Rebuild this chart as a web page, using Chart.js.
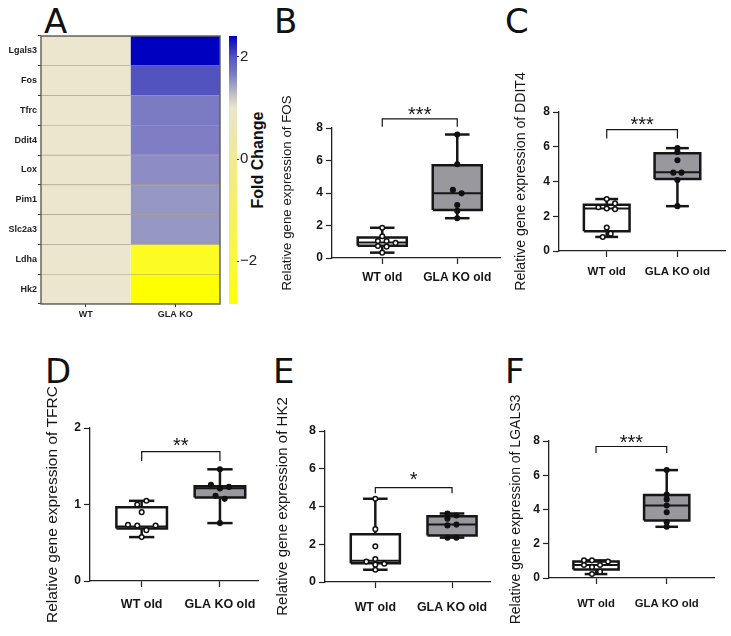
<!DOCTYPE html>
<html>
<head>
<meta charset="utf-8">
<script src="https://cdn.jsdelivr.net/npm/chart.js@4"></script>
<style>
html, body { margin: 0; padding: 0; background: #fff; }
body { position: relative; width: 731px; height: 636px; overflow: hidden; }
canvas { position: absolute; }
.letra { position: absolute; font-family: "DejaVu Sans"; font-size: 34px; line-height: 36px; color: #111; }
.cbtitulo { position: absolute; font-family: "Liberation Sans"; font-weight: bold; font-size: 16px; color: #111;
  transform: translate(-50%, -50%) rotate(-90deg); white-space: nowrap; }
</style>
</head>
<body>
<div class="letra" style="left:44px;top:3px">A</div>
<div class="letra" style="left:274px;top:3px">B</div>
<div class="letra" style="left:505px;top:3px">C</div>
<div class="letra" style="left:45px;top:353px">D</div>
<div class="letra" style="left:273px;top:353px">E</div>
<div class="letra" style="left:505px;top:353px">F</div>
<div class="cbtitulo" style="left:258px;top:160px">Fold Change</div>

<canvas id="heatmap"></canvas>
<canvas id="colorbar"></canvas>
<canvas id="chartB"></canvas>
<canvas id="chartC"></canvas>
<canvas id="chartD"></canvas>
<canvas id="chartE"></canvas>
<canvas id="chartF"></canvas>

<script>
// Heatmap
var genes = ['Lgals3', 'Fos', 'Tfrc', 'Ddit4', 'Lox', 'Pim1', 'Slc2a3', 'Ldha', 'Hk2'];
var heatGroups = ['WT', 'GLA KO'];
var foldWT = [1, 1, 1, 1, 1, 1, 1, 1, 1];
var foldKO = [2.41, 2.0, 1.66, 1.64, 1.56, 1.5, 1.5, -2.35, -2.84];
var colorTicks = [-2, 0, 2];
var colorStops = [
    [-2.84, '#ffff00'], [-2, '#f9f83a'], [0, '#efeb8e'], [0.75, '#ebe6c0'], [1, '#ebe6cd'],
    [1.25, '#c4c2c4'], [1.66, '#7b7bc4'], [2.0, '#5353c0'], [2.41, '#0000c0']
];

var groups = ['WT old', 'GLA KO old'];

// FOS
var fosWT = [0.33, 0.76, 0.95, 1.26, 1.86];
var fosKO = [2.45, 2.95, 3.98, 5.71, 7.6];
var fosWTy = [1.86, 1.34, 1.05, 1.05, 0.93, 0.74, 0.70, 0.33];
var fosWTx = [0, 0, -0.058, 0.058, 0.178, -0.058, 0.058, 0];
var fosKOy = [7.6, 5.77, 4.19, 3.98, 3.26, 2.9, 2.45];
var fosKOx = [0, 0, -0.058, 0.058, 0, 0, 0];
var fosBracket = [8.08, 8.56, 8.8];

// DDIT4
var dditWT = [0.81, 1.14, 2.45, 2.66, 2.99];
var dditKO = [2.58, 4.14, 4.53, 5.63, 5.92];
var dditWTy = [2.99, 2.74, 2.52, 2.45, 2.41, 1.35, 1.0, 0.81];
var dditWTx = [0, 0.118, -0.118, 0, 0.118, 0, 0.056, -0.056];
var dditKOy = [5.92, 5.7, 5.22, 4.51, 4.51, 4.08, 2.58];
var dditKOx = [0, 0, 0, -0.058, 0.058, 0, 0];
var dditBracket = [6.48, 6.98, 7.2];

// TFRC
var tfrcWT = [0.574, 0.687, 0.713, 0.965, 1.048];
var tfrcKO = [0.757, 1.09, 1.213, 1.24, 1.46];
var tfrcWTy = [1.05, 1.0, 0.9, 0.735, 0.726, 0.726, 0.665, 0.574];
var tfrcWTx = [0.06, -0.056, 0, -0.175, -0.056, 0.178, 0.06, 0];
var tfrcKOy = [1.46, 1.257, 1.23, 1.21, 1.113, 1.074, 0.757];
var tfrcKOx = [0, -0.115, 0.115, 0, -0.056, 0.06, 0];
var tfrcBracket = [1.57, 1.69, 1.76];

// HK2
var hk2WT = [0.65, 1.0, 1.13, 2.53, 4.41];
var hk2KO = [2.35, 2.46, 3.04, 3.49, 3.63];
var hk2WTy = [4.41, 2.8, 1.89, 1.22, 1.08, 0.97, 0.92, 0.65];
var hk2WTx = [0, 0, 0, 0, -0.117, 0.117, 0, 0];
var hk2KOy = [3.63, 3.52, 3.35, 3.0, 3.04, 2.35, 2.35];
var hk2KOx = [-0.06, 0.057, -0.06, -0.06, 0.057, -0.06, 0.057];
var hk2Bracket = [4.7, 5.0, 5.36];

// LGALS3
var lgalWT = [0.23, 0.49, 0.76, 0.96, 1.03];
var lgalKO = [2.99, 3.36, 4.23, 4.84, 6.3];
var lgalWTy = [1.03, 1.03, 0.96, 0.76, 0.76, 0.64, 0.37, 0.23];
var lgalWTx = [-0.17, -0.057, 0.17, -0.17, 0.057, -0.057, 0.057, -0.057];
var lgalKOy = [6.3, 4.88, 4.59, 4.23, 3.84, 3.26, 2.99];
var lgalKOx = [0, 0, 0, 0, 0, 0, 0];
var lgalBracket = [7.3, 7.68, 7.85];

var tinta = '#161616';
var greyBox = '#98989e';

function colorFor(v) {
    for (var i = 1; i < colorStops.length; i++) {
        if (v <= colorStops[i][0]) {
            var a = colorStops[i - 1], b = colorStops[i];
            var t = (v - a[0]) / (b[0] - a[0]);
            var out = '#';
            for (var k = 1; k < 6; k += 2) {
                var c1 = parseInt(a[1].substr(k, 2), 16), c2 = parseInt(b[1].substr(k, 2), 16);
                var c = Math.round(c1 + (c2 - c1) * t).toString(16);
                out += c.length < 2 ? '0' + c : c;
            }
            return out;
        }
    }
    return colorStops[colorStops.length - 1][1];
}

function place(id, box) {
    var cv = document.getElementById(id);
    cv.width = box.w;
    cv.height = box.h;
    cv.style.left = box.x + 'px';
    cv.style.top = box.y + 'px';
    cv.style.width = box.w + 'px';
    cv.style.height = box.h + 'px';
    return cv;
}

var starsPlugin = {
    id: 'stars',
    afterDatasetsDraw: function(chart, args, opts) {
        if (!opts.text) return;
        var ctx = chart.ctx;
        ctx.save();
        ctx.font = opts.font;
        ctx.fillStyle = tinta;
        ctx.textAlign = 'center';
        ctx.textBaseline = 'middle';
        ctx.fillText(opts.text, chart.scales.x.getPixelForValue(1.5), chart.scales.y.getPixelForValue(opts.y));
        ctx.restore();
    }
};

function lineSet(pts, width) {
    return {
        data: pts,
        showLine: true,
        pointRadius: 0,
        borderColor: tinta,
        borderWidth: width,
        clip: false,
        order: 2
    };
}

function boxSets(x, s, half, fill, lw) {
    var cap = half * 0.5;
    return [
        // caja
        {
            data: [{x: x - half, y: s[1]}, {x: x + half, y: s[1]}, {x: x + half, y: s[3]}, {x: x - half, y: s[3]}, {x: x - half, y: s[1]}],
            showLine: true, fill: 'shape', backgroundColor: fill, borderColor: tinta,
            borderWidth: lw, pointRadius: 0, clip: false, order: 3
        },
        lineSet([{x: x - half, y: s[2]}, {x: x + half, y: s[2]}], lw * 0.8),
        lineSet([{x: x, y: s[3]}, {x: x, y: s[4]}], lw),
        lineSet([{x: x - cap, y: s[4]}, {x: x + cap, y: s[4]}], lw),
        lineSet([{x: x, y: s[1]}, {x: x, y: s[0]}], lw),
        lineSet([{x: x - cap, y: s[0]}, {x: x + cap, y: s[0]}], lw)
    ];
}

function pointSet(x, ys, offs, fill) {
    return {
        data: ys.map(function(v, i) { return {x: x + offs[i], y: v}; }),
        pointRadius: 2.3,
        pointBorderWidth: 1.5,
        pointBorderColor: '#111',
        pointBackgroundColor: fill,
        clip: false,
        order: 1
    };
}

function drawBoxPanel(p) {
    var box = p.box, plot = p.plot;
    var cv = place(p.id, box);
    var sets = [].concat(
        boxSets(1, p.wt, p.half, '#ffffff', p.lw),
        boxSets(2, p.ko, p.half, greyBox, p.lw),
        [pointSet(1, p.wtY, p.wtX, '#ffffff'), pointSet(2, p.koY, p.koX, '#111111')],
        [lineSet([{x: 1, y: p.bracket[0]}, {x: 1, y: p.bracket[1]}, {x: 2, y: p.bracket[1]}, {x: 2, y: p.bracket[0]}], 1.2)]
    );
    new Chart(cv, {
        type: 'scatter',
        data: {datasets: sets},
        plugins: [starsPlugin],
        options: {
            responsive: false,
            animation: false,
            layout: {padding: {left: 0, top: plot.top - box.y, right: box.x + box.w - plot.right, bottom: 0}},
            plugins: {
                legend: {display: false},
                tooltip: {enabled: false},
                stars: {text: p.stars, y: p.bracket[2], font: p.starSize + 'px "Liberation Sans"'}
            },
            scales: {
                x: {
                    type: 'linear',
                    min: p.xMin,
                    max: p.xMax,
                    afterBuildTicks: function(s) { s.ticks = [{value: 1}, {value: 2}]; },
                    afterFit: function(s) { s.height = box.y + box.h - plot.bottom; },
                    ticks: {
                        callback: function(v) { return groups[v - 1]; },
                        font: {family: 'Liberation Sans', weight: 'bold', size: p.xFont},
                        color: tinta, maxRotation: 0, autoSkip: false, padding: p.xPad
                    },
                    grid: {drawOnChartArea: false, drawTicks: true, tickLength: 6, tickWidth: 1.2, tickColor: '#222'},
                    border: {color: '#222', width: 1.3}
                },
                y: {
                    min: 0,
                    max: p.yMax,
                    afterFit: function(s) { s.width = plot.left - box.x; },
                    ticks: {
                        stepSize: p.yStep,
                        font: {family: 'Liberation Sans', weight: 'bold', size: p.yFont},
                        color: tinta, padding: 3
                    },
                    grid: {drawOnChartArea: false, drawTicks: true, tickLength: 6, tickWidth: 1.2, tickColor: '#222'},
                    border: {color: '#222', width: 1.3},
                    title: {
                        display: true,
                        text: p.title,
                        font: {family: 'Liberation Sans', size: p.titleSize},
                        color: tinta,
                        padding: {top: p.titlePad, bottom: 0}
                    }
                }
            }
        }
    });
}

// el canvas sobra por la derecha para que la etiqueta no encoja el eje
drawBoxPanel({
    id: 'chartB', box: {x: 270, y: 60, w: 260, h: 245}, plot: {left: 332, right: 500, top: 128, bottom: 258},
    wt: fosWT, ko: fosKO, wtY: fosWTy, wtX: fosWTx, koY: fosKOy, koX: fosKOx, bracket: fosBracket,
    stars: '***', starSize: 20, half: 0.327, lw: 2.5,
    xMin: 0.33, xMax: 2.57, yMax: 8, yStep: 2, title: 'Relative gene expression of FOS', titleSize: 13.3, titlePad: 9,
    xFont: 12, yFont: 12, xPad: 6
});
drawBoxPanel({
    id: 'chartC', box: {x: 505, y: 40, w: 250, h: 260}, plot: {left: 559, right: 725, top: 112, bottom: 251},
    wt: dditWT, ko: dditKO, wtY: dditWTy, wtX: dditWTx, koY: dditKOy, koX: dditKOx, bracket: dditBracket,
    stars: '***', starSize: 20, half: 0.323, lw: 2.5,
    xMin: 0.325, xMax: 2.673, yMax: 8, yStep: 2, title: 'Relative gene expression of DDIT4', titleSize: 14.1, titlePad: 8,
    xFont: 11.5, yFont: 12, xPad: 8
});
drawBoxPanel({
    id: 'chartD', box: {x: 40, y: 370, w: 248, h: 266}, plot: {left: 90, right: 258, top: 428, bottom: 581},
    wt: tfrcWT, ko: tfrcKO, wtY: tfrcWTy, wtX: tfrcWTx, koY: tfrcKOy, koX: tfrcKOx, bracket: tfrcBracket,
    stars: '**', starSize: 20, half: 0.323, lw: 2.5,
    xMin: 0.34, xMax: 2.486, yMax: 2, yStep: 1, title: 'Relative gene expression of TFRC', titleSize: 15.5, titlePad: 3,
    xFont: 12.5, yFont: 12, xPad: 10
});
drawBoxPanel({
    id: 'chartE', box: {x: 270, y: 380, w: 250, h: 256}, plot: {left: 325, right: 490, top: 431, bottom: 582},
    wt: hk2WT, ko: hk2KO, wtY: hk2WTy, wtX: hk2WTx, koY: hk2KOy, koX: hk2KOx, bracket: hk2Bracket,
    stars: '*', starSize: 20, half: 0.32, lw: 2.5,
    xMin: 0.344, xMax: 2.495, yMax: 8, yStep: 2, title: 'Relative gene expression of HK2', titleSize: 15, titlePad: 4,
    xFont: 12.4, yFont: 12.5, xPad: 12
});
drawBoxPanel({
    id: 'chartF', box: {x: 500, y: 380, w: 244, h: 256}, plot: {left: 549, right: 714, top: 441, bottom: 578},
    wt: lgalWT, ko: lgalKO, wtY: lgalWTy, wtX: lgalWTx, koY: lgalKOy, koX: lgalKOx, bracket: lgalBracket,
    stars: '***', starSize: 20, half: 0.32, lw: 2.5,
    xMin: 0.335, xMax: 2.669, yMax: 8, yStep: 2, title: 'Relative gene expression of LGALS3', titleSize: 14, titlePad: 8,
    xFont: 11.3, yFont: 12, xPad: 13
});

// Heatmap: dos columnas apiladas, el color sale del valor
var heatBox = {x: 0, y: 26, w: 226, h: 300};
var heatPlot = {left: 41, right: 220, top: 36, bottom: 304};
var frame = {
    id: 'frame',
    afterDatasetsDraw: function(chart) {
        var a = chart.chartArea, ctx = chart.ctx;
        ctx.save();
        ctx.strokeStyle = '#5c5c58';
        ctx.lineWidth = 1.4;
        ctx.strokeRect(a.left, a.top, a.right - a.left, a.bottom - a.top);
        ctx.restore();
    }
};
function cellSet(name, vals) {
    return {
        label: name,
        data: vals.map(function() { return 1; }),
        backgroundColor: vals.map(colorFor),
        borderColor: '#a5a18d',
        borderWidth: {top: 0.6, bottom: 0.6, left: 0, right: 0},
        barPercentage: 1,
        categoryPercentage: 1
    };
}
new Chart(place('heatmap', heatBox), {
    type: 'bar',
    data: {labels: genes, datasets: [cellSet(heatGroups[0], foldWT), cellSet(heatGroups[1], foldKO)]},
    plugins: [frame],
    options: {
        indexAxis: 'y',
        responsive: false,
        animation: false,
        layout: {padding: {left: 0, top: heatPlot.top - heatBox.y, right: heatBox.x + heatBox.w - heatPlot.right, bottom: 0}},
        plugins: {legend: {display: false}, tooltip: {enabled: false}},
        scales: {
            x: {
                type: 'linear', stacked: true, min: 0, max: 2,
                afterBuildTicks: function(s) { s.ticks = [{value: 0.5}, {value: 1.5}]; },
                afterFit: function(s) { s.height = heatBox.y + heatBox.h - heatPlot.bottom; },
                ticks: {
                    callback: function(v) { return heatGroups[Math.floor(v)]; },
                    font: {family: 'Liberation Sans', weight: 'bold', size: 9},
                    color: '#222', maxRotation: 0, padding: 2
                },
                grid: {drawOnChartArea: false, tickLength: 3, tickColor: '#333'},
                border: {display: false}
            },
            y: {
                stacked: true,
                afterFit: function(s) { s.width = heatPlot.left - heatBox.x; },
                ticks: {font: {family: 'Liberation Sans', weight: 'bold', size: 9}, color: '#222', padding: 1, autoSkip: false},
                grid: {drawOnChartArea: false, tickLength: 3, tickColor: '#333'},
                border: {display: false}
            }
        }
    }
});

// Barra de color
var cbBox = {x: 224, y: 26, w: 40, h: 300};
var cbPlot = {left: 229, right: 237, top: 36, bottom: 304};
new Chart(place('colorbar', cbBox), {
    type: 'bar',
    data: {
        labels: ['Fold Change'],
        datasets: [{
            data: [[colorStops[0][0], colorStops[colorStops.length - 1][0]]],
            barPercentage: 1,
            categoryPercentage: 1,
            backgroundColor: function(c) {
                var area = c.chart.chartArea, yS = c.chart.scales.y;
                if (!area) return '#ccc';
                var g = c.chart.ctx.createLinearGradient(0, yS.bottom, 0, yS.top);
                colorStops.forEach(function(st) {
                    g.addColorStop((st[0] - yS.min) / (yS.max - yS.min), st[1]);
                });
                return g;
            }
        }]
    },
    options: {
        responsive: false,
        animation: false,
        layout: {padding: {left: cbPlot.left - cbBox.x, top: cbPlot.top - cbBox.y, right: 0, bottom: cbBox.y + cbBox.h - cbPlot.bottom}},
        plugins: {legend: {display: false}, tooltip: {enabled: false}},
        scales: {
            x: {display: false},
            y: {
                position: 'right',
                min: colorStops[0][0],
                max: colorStops[colorStops.length - 1][0],
                afterBuildTicks: function(s) { s.ticks = colorTicks.map(function(v) { return {value: v}; }); },
                afterFit: function(s) { s.width = cbBox.x + cbBox.w - cbPlot.right; },
                ticks: {
                    callback: function(v) { return String(v).replace('-', '\u2212'); },
                    font: {family: 'Liberation Sans', size: 15},
                    color: '#222', padding: 1
                },
                grid: {drawOnChartArea: false, tickLength: 2, tickColor: '#333'},
                border: {display: false}
            }
        }
    }
});
</script>
</body>
</html>
